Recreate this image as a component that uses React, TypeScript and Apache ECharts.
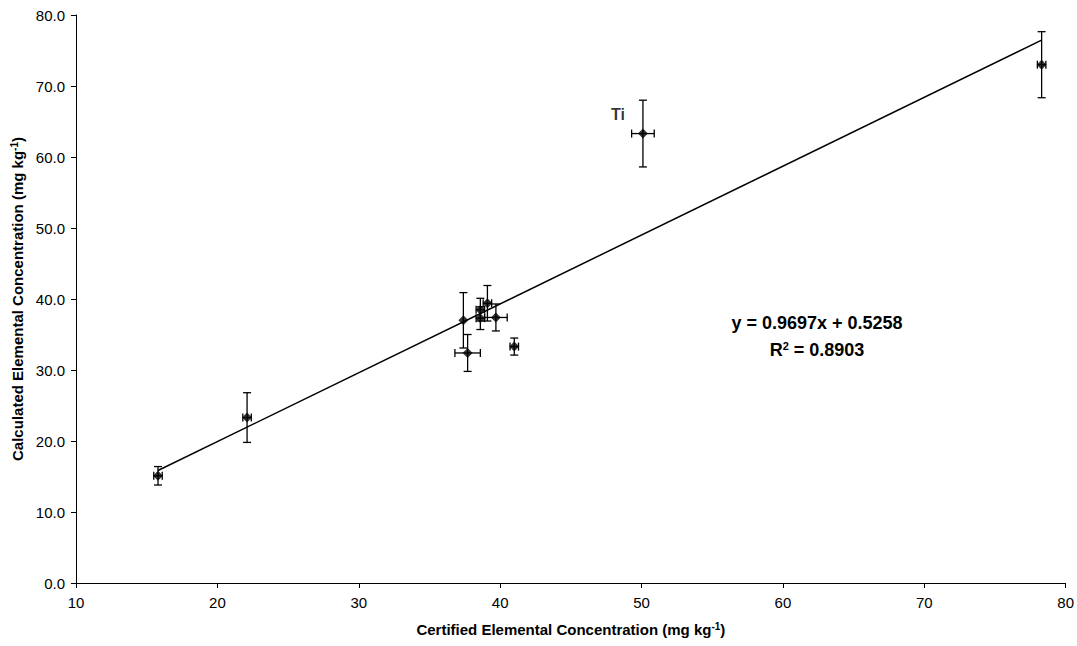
import React, { useEffect, useRef } from "react";
import * as echarts from "echarts";

const certified = [15.8, 22.1, 37.4, 37.7, 38.6, 38.6, 39.1, 39.7, 41.0, 50.1, 78.3];
const calculated = [15.1, 23.3, 37.0, 32.4, 38.5, 37.3, 39.4, 37.4, 33.3, 63.3, 73.0];
const certifiedErr = [0.3, 0.3, 0.0, 0.9, 0.3, 0.3, 0.3, 0.8, 0.3, 0.8, 0.3];
const calculatedErr = [1.3, 3.5, 3.9, 2.6, 1.6, 1.6, 2.5, 1.9, 1.2, 4.7, 4.65];
const pointLabels = ["", "", "", "", "", "", "", "", "", "Ti", ""];
const slope = 0.9697;
const intercept = 0.5258;
const rSquared = "0.8903";

const FONT = "'Liberation Sans', Arial, sans-serif";

export default function App() {
  const ref = useRef<HTMLDivElement>(null);
  useEffect(() => {
    if (!ref.current) return;
    const chart = echarts.init(ref.current, undefined, { renderer: "svg" });
    const xMin = Math.min(...certified);
    const xMax = Math.max(...certified);
    const trend = [
      [xMin, slope * xMin + intercept],
      [xMax, slope * xMax + intercept],
    ];
    const errData = certified.map((x, i) => [x, calculated[i], certifiedErr[i], calculatedErr[i]]);
    const style = { stroke: "#000", lineWidth: 1.3 };
    const cap = 4;
    chart.setOption({
      animation: false,
      textStyle: { fontFamily: FONT },
      grid: { left: 76, right: 10, top: 15, bottom: 63 },
      xAxis: {
        type: "value",
        min: 10,
        max: 80,
        interval: 10,
        splitLine: { show: false },
        axisLine: { onZero: false, lineStyle: { color: "#000", width: 1 } },
        axisTick: { show: true, inside: false, length: 5, lineStyle: { color: "#000" } },
        axisLabel: { color: "#000", fontSize: 15, fontFamily: FONT, margin: 12 },
        name: "{b|Certified Elemental Concentration (mg kg}{s|-1}{b|)}",
        nameLocation: "middle",
        nameGap: 38,
        nameTextStyle: {
          rich: {
            b: { fontSize: 15, fontWeight: "bold", color: "#000", fontFamily: FONT },
            s: { fontSize: 10, fontWeight: "bold", color: "#000", fontFamily: FONT, verticalAlign: "top", padding: [0, 0, 6, 0] },
          },
        },
      },
      yAxis: {
        type: "value",
        min: 0,
        max: 80,
        interval: 10,
        splitLine: { show: false },
        axisLine: { show: true, onZero: false, lineStyle: { color: "#000", width: 1 } },
        axisTick: { show: true, inside: false, length: 5, lineStyle: { color: "#000" } },
        axisLabel: { color: "#000", fontSize: 15, fontFamily: FONT, margin: 11, formatter: (v: number) => v.toFixed(1) },
        name: "{b|Calculated Elemental Concentration (mg kg}{s|-1}{b|)}",
        nameLocation: "middle",
        nameGap: 48,
        nameTextStyle: {
          rich: {
            b: { fontSize: 15, fontWeight: "bold", color: "#000", fontFamily: FONT },
            s: { fontSize: 10, fontWeight: "bold", color: "#000", fontFamily: FONT, verticalAlign: "top", padding: [0, 0, 6, 0] },
          },
        },
      },
      series: [
        {
          type: "line",
          data: trend,
          symbol: "none",
          lineStyle: { color: "#000", width: 1.5 },
          silent: true,
          z: 1,
        },
        {
          type: "custom",
          data: errData,
          encode: { x: 0, y: 1 },
          z: 2,
          renderItem: (_params: any, api: any) => {
            const x = api.value(0);
            const y = api.value(1);
            const ex = api.value(2);
            const ey = api.value(3);
            const top = api.coord([x, y + ey]);
            const bot = api.coord([x, y - ey]);
            const children: any[] = [
              { type: "line", shape: { x1: top[0], y1: top[1], x2: bot[0], y2: bot[1] }, style },
              { type: "line", shape: { x1: top[0] - cap, y1: top[1], x2: top[0] + cap, y2: top[1] }, style },
              { type: "line", shape: { x1: bot[0] - cap, y1: bot[1], x2: bot[0] + cap, y2: bot[1] }, style },
            ];
            if (ex > 0) {
              const l = api.coord([x - ex, y]);
              const r = api.coord([x + ex, y]);
              children.push(
                { type: "line", shape: { x1: l[0], y1: l[1], x2: r[0], y2: r[1] }, style },
                { type: "line", shape: { x1: l[0], y1: l[1] - cap, x2: l[0], y2: l[1] + cap }, style },
                { type: "line", shape: { x1: r[0], y1: r[1] - cap, x2: r[0], y2: r[1] + cap }, style }
              );
            }
            return { type: "group", children };
          },
        },
        {
          type: "scatter",
          data: certified.map((x, i) => [x, calculated[i]]),
          symbol: "diamond",
          symbolSize: 10,
          itemStyle: { color: "#000" },
          z: 3,
          label: {
            show: true,
            formatter: (p: any) => pointLabels[p.dataIndex],
            position: "left",
            offset: [-8, -19],
            fontSize: 16,
            fontWeight: "bold",
            color: "#000",
            fontFamily: FONT,
          },
        },
      ],
      graphic: [
        {
          type: "text",
          x: 817,
          y: 323,
          style: {
            text: "y = " + slope + "x + " + intercept,
            font: "bold 18px " + FONT,
            fill: "#000",
            align: "center",
            verticalAlign: "middle",
          },
        },
        {
          type: "text",
          x: 817,
          y: 350,
          style: {
            text: "{b|R}{s|2}{b| = " + rSquared + "}",
            align: "center",
            verticalAlign: "middle",
            rich: {
              b: { fontSize: 18, fontWeight: "bold", fill: "#000", fontFamily: FONT },
              s: { fontSize: 11, fontWeight: "bold", fill: "#000", fontFamily: FONT, verticalAlign: "top", padding: [0, 0, 8, 0] },
            },
          },
        },
      ],
    });
    return () => chart.dispose();
  }, []);
  return (
    <div
      ref={ref}
      style={{ position: "absolute", left: 0, top: 0, width: 1077, height: 646, background: "#fff" }}
    />
  );
}
